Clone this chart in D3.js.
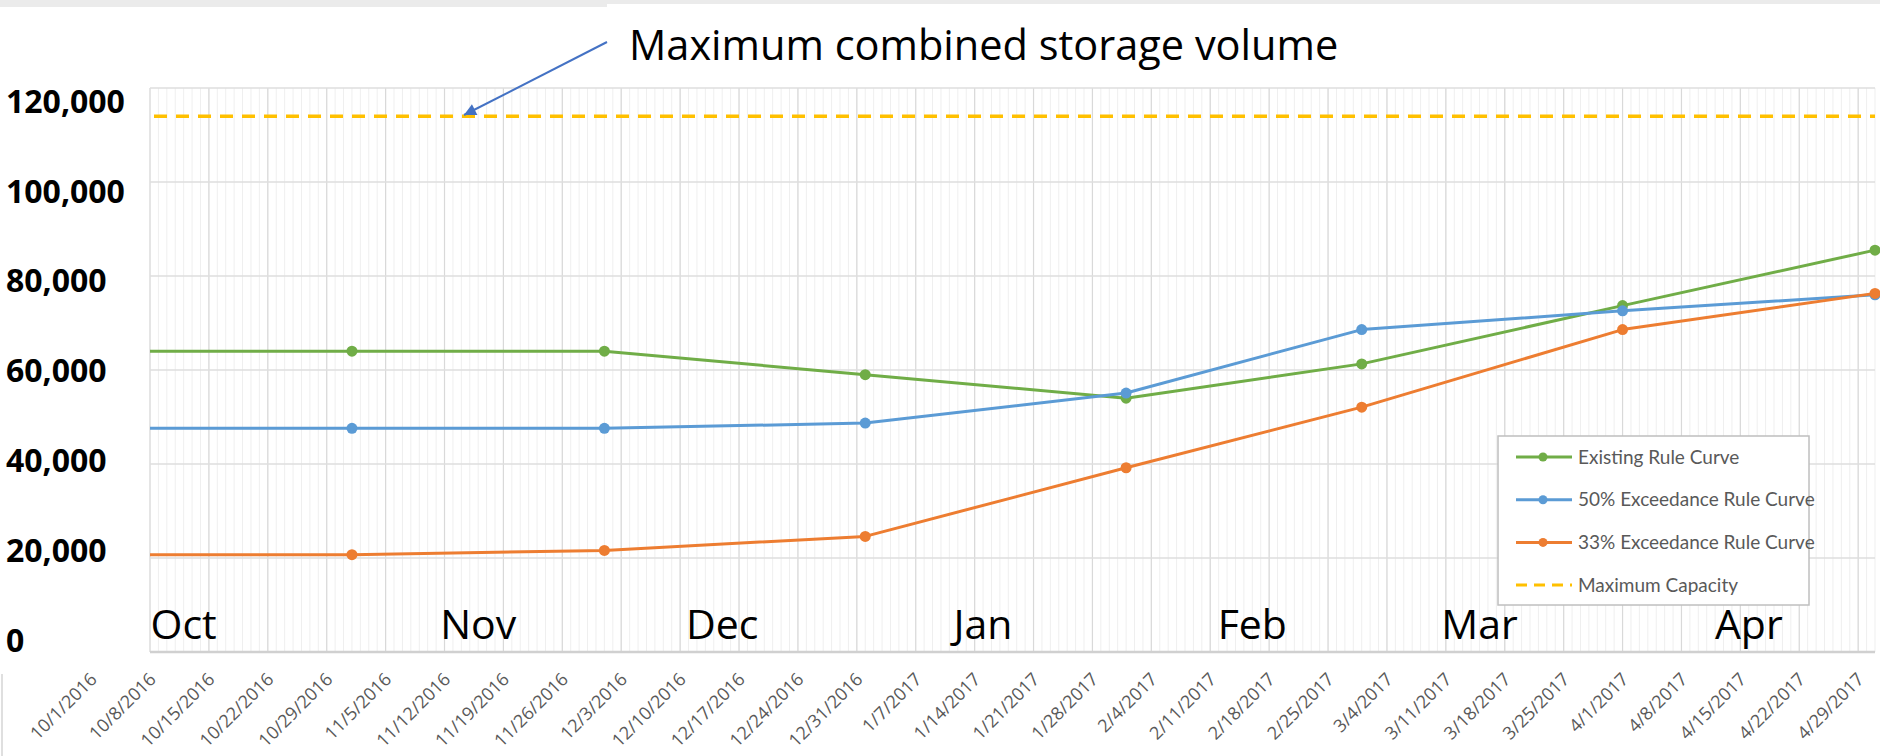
<!DOCTYPE html>
<html>
<head>
<meta charset="utf-8">
<script src="https://cdn.jsdelivr.net/npm/d3@7"></script>
<style>
  html, body { margin: 0; padding: 0; background: #fff; }
  svg { display: block; }
</style>
</head>
<body>
<figure id="chart" style="margin:0"></figure>
<script>
// values (acre-feet)
const dates = ["2016-10-01", "2016-11-01", "2016-12-01", "2017-01-01", "2017-02-01", "2017-03-01", "2017-04-01", "2017-05-01"];
const existing = [64000, 64000, 64000, 59000, 54000, 61300, 73700, 85500];
const exceed50 = [47600, 47600, 47600, 48700, 55100, 68600, 72600, 76000];
const exceed33 = [20700, 20700, 21600, 24600, 39200, 52100, 68600, 76300];
const maxCapacity = 114000;

const yTicks = [0, 20000, 40000, 60000, 80000, 100000, 120000];
const months = ["Oct", "Nov", "Dec", "Jan", "Feb", "Mar", "Apr"];
const monthDates = ["2016-10-12", "2016-11-16", "2016-12-15", "2017-01-15", "2017-02-16", "2017-03-15", "2017-04-16"];
const seriesNames = ["Existing Rule Curve", "50% Exceedance Rule Curve", "33% Exceedance Rule Curve", "Maximum Capacity"];
const annotation = "Maximum combined storage volume";

const width = 1880, height = 756;
const plot = {left: 150, right: 1875, top: 88, bottom: 652};
const colors = ["#70AD47", "#5B9BD5", "#ED7D31", "#FFC000"];

const parse = d3.timeParse("%Y-%m-%d");
const fmt = d3.timeFormat("%-m/%-d/%Y");

const svg = d3.select("figure#chart")
  .append("svg")
  .attr("width", width)
  .attr("height", height);

const x = d3.scaleTime()
  .domain([parse("2016-10-08"), parse("2017-05-01")])
  .range([plot.left, plot.right]);

const y = d3.scaleLinear()
  .domain([0, 120000])
  .range([plot.bottom, plot.top]);

// the value labels sit on their own spacing in the source image
const yLabel = d3.scaleLinear()
  .domain([0, 120000])
  .range([640, 101]);

// frame bits from the screenshot
svg.append("rect")
  .attr("x", 0).attr("y", 0)
  .attr("width", width).attr("height", 4)
  .attr("fill", "#ebebeb");
svg.append("rect")
  .attr("x", 0).attr("y", 0)
  .attr("width", 607).attr("height", 7)
  .attr("fill", "#ebebeb");
svg.append("line")
  .attr("x1", 2).attr("x2", 2)
  .attr("y1", 674).attr("y2", height)
  .attr("stroke", "#d4d4d4")
  .attr("stroke-width", 1.5);

// gridlines
const days = d3.timeDay.range(parse("2016-10-08"), parse("2017-05-02"));
const weeks = d3.timeSaturday.range(parse("2016-10-01"), parse("2017-05-01"));

svg.append("g").selectAll("line")
  .data(days)
  .enter()
  .append("line")
  .attr("x1", d => x(d)).attr("x2", d => x(d))
  .attr("y1", plot.top).attr("y2", plot.bottom)
  .attr("stroke", "#efefef")
  .attr("stroke-width", 1);

svg.append("g").selectAll("line")
  .data(weeks.filter(d => x(d) >= plot.left))
  .enter()
  .append("line")
  .attr("x1", d => x(d)).attr("x2", d => x(d))
  .attr("y1", plot.top).attr("y2", plot.bottom)
  .attr("stroke", "#d9d9d9")
  .attr("stroke-width", 1.2);

svg.append("g").selectAll("line")
  .data(yTicks)
  .enter()
  .append("line")
  .attr("x1", plot.left).attr("x2", plot.right)
  .attr("y1", d => y(d)).attr("y2", d => y(d))
  .attr("stroke", d => d === 0 ? "#d0d0d0" : "#dedede")
  .attr("stroke-width", d => d === 0 ? 2.5 : 1.5);

// x axis: weekly date labels
const xAxis = svg.append("g")
  .attr("transform", "translate(0," + plot.bottom + ")")
  .call(d3.axisBottom(x).tickValues(weeks).tickFormat(fmt).tickSize(0));
xAxis.select(".domain").remove();
xAxis.selectAll("text")
  .attr("x", 0).attr("y", 0)
  .attr("dy", "0.35em")
  .attr("transform", "translate(2,24)rotate(-45)")
  .style("text-anchor", "end")
  .style("font-family", "'Open Sans', sans-serif")
  .style("font-size", "18px")
  .style("fill", "#595959");

// y axis labels, left aligned
const yAxis = svg.append("g")
  .attr("transform", "translate(6,0)")
  .call(d3.axisLeft(yLabel).tickValues(yTicks).tickFormat(d3.format(",")).tickSize(0));
yAxis.select(".domain").remove();
yAxis.selectAll("text")
  .attr("x", 0)
  .attr("dy", "0.35em")
  .style("text-anchor", "start")
  .style("font-family", "'Open Sans', sans-serif")
  .style("font-weight", "bold")
  .style("font-size", "32px")
  .style("fill", "#000");

// month names inside the plot
svg.append("g").selectAll("text")
  .data(months)
  .enter()
  .append("text")
  .attr("x", (d, i) => x(parse(monthDates[i])))
  .attr("y", 639)
  .attr("text-anchor", "middle")
  .style("font-family", "'Open Sans', sans-serif")
  .style("font-size", "41px")
  .style("fill", "#000")
  .text(d => d);

// max capacity
svg.append("line")
  .attr("x1", plot.left + 4).attr("x2", plot.right)
  .attr("y1", y(maxCapacity)).attr("y2", y(maxCapacity))
  .attr("stroke", colors[3])
  .attr("stroke-width", 3.5)
  .attr("stroke-dasharray", "13,9");

// series
svg.append("clipPath").attr("id", "clip")
  .append("rect")
  .attr("x", plot.left).attr("y", 0)
  .attr("width", width - plot.left).attr("height", height);

const series = [existing, exceed50, exceed33];
const line = d3.line()
  .x(d => x(d.date))
  .y(d => y(d.value));

const layer = svg.append("g").attr("clip-path", "url(#clip)");
series.forEach((values, s) => {
  const pts = values.map((v, i) => ({date: parse(dates[i]), value: v}));
  layer.append("path")
    .datum(pts)
    .attr("fill", "none")
    .attr("stroke", colors[s])
    .attr("stroke-width", 3)
    .attr("stroke-linejoin", "round")
    .attr("d", line);
  layer.selectAll(".pt" + s)
    .data(pts)
    .enter()
    .append("circle")
    .attr("class", "pt" + s)
    .attr("cx", d => x(d.date))
    .attr("cy", d => y(d.value))
    .attr("r", 5.5)
    .attr("fill", colors[s]);
});

// legend
const legend = svg.append("g").attr("transform", "translate(1498,436)");
legend.append("rect")
  .attr("width", 311).attr("height", 169)
  .attr("fill", "#fff")
  .attr("stroke", "#bfbfbf")
  .attr("stroke-width", 1.5);
const rows = legend.selectAll("g.row")
  .data(seriesNames)
  .enter()
  .append("g")
  .attr("class", "row")
  .attr("transform", (d, i) => "translate(0," + (21 + i * 42.7) + ")");
rows.append("line")
  .attr("x1", 18).attr("x2", 74)
  .attr("stroke", (d, i) => colors[i])
  .attr("stroke-width", 3)
  .attr("stroke-dasharray", (d, i) => i === 3 ? "11,7" : null);
rows.filter((d, i) => i < 3)
  .append("circle")
  .attr("cx", 45).attr("r", 4.5)
  .attr("fill", (d, i) => colors[i]);
rows.append("text")
  .attr("x", 80)
  .attr("dy", "0.35em")
  .style("font-family", "Lato, sans-serif")
  .style("font-size", "19px")
  .style("fill", "#595959")
  .text(d => d);

// annotation and arrow
svg.append("defs").append("marker")
  .attr("id", "arrow")
  .attr("viewBox", "0 0 10 10")
  .attr("refX", 10).attr("refY", 5)
  .attr("markerWidth", 7).attr("markerHeight", 6)
  .attr("markerUnits", "strokeWidth")
  .attr("orient", "auto")
  .append("path")
  .attr("d", "M0,0L10,5L0,10z")
  .attr("fill", "#4472C4");

svg.append("line")
  .attr("x1", 607).attr("y1", 42)
  .attr("x2", 464).attr("y2", 115)
  .attr("stroke", "#4472C4")
  .attr("stroke-width", 2)
  .attr("marker-end", "url(#arrow)");

svg.append("text")
  .attr("x", 629)
  .attr("y", 60)
  .style("font-family", "'Open Sans', sans-serif")
  .style("font-size", "41.5px")
  .style("fill", "#000")
  .text(annotation);
</script>
</body>
</html>
